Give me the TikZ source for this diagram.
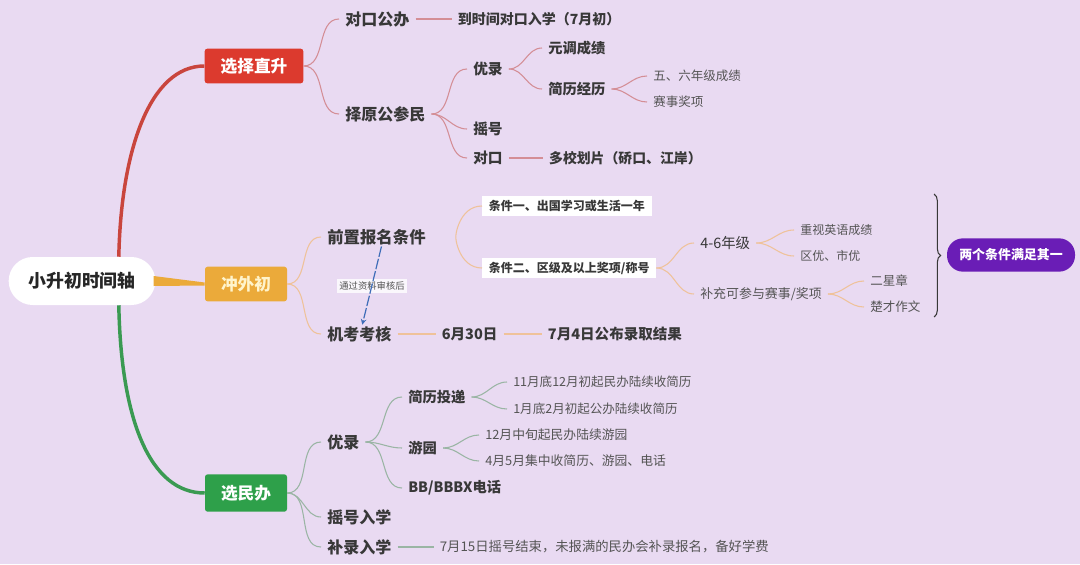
\documentclass[tikz,border=0pt]{standalone}
\usepackage{fontspec}
\setmainfont{Noto Sans CJK SC}
\usepackage{tikz}
\usepackage{xcolor}
\usetikzlibrary{shapes.geometric, arrows, positioning, calc, decorations.pathreplacing}
\definecolor{bgpurple}{HTML}{E9DAF2}
\definecolor{zsred}{HTML}{DC3A2E}
\definecolor{zsredline}{HTML}{C9453D}
\definecolor{redthin}{HTML}{D48E96}
\definecolor{cworange}{HTML}{EBAA3A}
\definecolor{cwtext}{HTML}{FFF4CC}
\definecolor{orangethin}{HTML}{EFC29A}
\definecolor{xmgreen}{HTML}{2EA04A}
\definecolor{xmgreenline}{HTML}{3A9A52}
\definecolor{greenthin}{HTML}{9AB5A4}
\definecolor{txtdark}{HTML}{383838}
\definecolor{txtgray}{HTML}{545454}
\definecolor{pillpurple}{HTML}{6A1DB6}
\definecolor{arrowblue}{HTML}{3F6DB8}
\tikzstyle{root} = [fill=white, rounded corners=18pt, minimum width=110pt, minimum height=36pt, text=black!85, font=\bfseries\fontsize{13.4}{16}\selectfont]
\tikzstyle{mainbox} = [rounded corners=2pt, minimum height=26pt, font=\bfseries\fontsize{12.5}{15}\selectfont]
\tikzstyle{sub} = [anchor=west, inner xsep=4.5pt, inner ysep=1pt, text=txtdark, font=\bfseries\fontsize{12}{14}\selectfont]
\tikzstyle{item} = [sub, font=\bfseries\fontsize{10.7}{13}\selectfont]
\tikzstyle{leaf} = [anchor=west, inner xsep=4.5pt, inner ysep=1pt, text=txtgray, font=\fontsize{9.4}{12}\selectfont]
\tikzstyle{tag} = [anchor=west, fill=white, inner xsep=5pt, inner ysep=3pt, text=txtdark, font=\bfseries\fontsize{9}{11}\selectfont]
\tikzstyle{pill} = [fill=pillpurple, text=white, rounded corners=12pt, minimum width=96pt, minimum height=25pt, font=\bfseries\fontsize{9.7}{12}\selectfont]
\tikzstyle{note} = [fill=white, fill opacity=0.8, text opacity=1, text=txtgray, inner sep=2pt, font=\fontsize{7}{9}\selectfont]
\tikzstyle{fork} = [out=0, in=180]
\tikzstyle{redlink} = [draw=redthin, line width=0.8pt]
\tikzstyle{orangelink} = [draw=orangethin, line width=0.8pt]
\tikzstyle{greenlink} = [draw=greenthin, line width=0.8pt]
\tikzstyle{bigbrace} = [decorate, decoration={brace, amplitude=5pt}, draw=txtdark, line width=0.8pt]

\begin{document}
\begin{tikzpicture}[x=0.75pt, y=-0.75pt, >=stealth]
    \fill [bgpurple] (0,0) rectangle (1080,564);
    \useasboundingbox (0,0) rectangle (1080,564);

    % centre and the three branches
    \node (root) [root] at (82,281) {小升初时间轴};
    \node (zhisheng) [mainbox, fill=zsred, text=white, minimum width=74pt] at (254,66) {选择直升};
    \node (chongwai) [mainbox, fill=cworange, text=cwtext, minimum width=61.5pt] at (246,284) {冲外初};
    \node (xuanmin) [mainbox, fill=xmgreen, text=white, minimum width=61.5pt, minimum height=28pt] at (246,493) {选民办};

    \draw [line width=2.6pt, draw=zsredline] ($(root.north)!0.5!(root.north east)$) .. controls (121,150) and (150,66) .. (zhisheng.west);
    \draw [line width=2.6pt, draw=xmgreenline] ($(root.south)!0.5!(root.south east)$) .. controls (121,420) and (150,493) .. (xuanmin.west);
    \fill [cworange] ($(root.east)+(-2,-5)$) -- ($(chongwai.west)+(0,-1.5)$) -- ($(chongwai.west)+(0,1.5)$) -- ($(root.east)+(-2,5)$) -- cycle;

    % 选择直升
    \node (duikougb) [sub] at (339,19) {对口公办};
    \node (ruxue) [item, right=27pt of duikougb, font=\bfseries\fontsize{10.5}{13}\selectfont] {到时间对口入学（7月初）};
    \node (zeyuan) [sub] at (339,114) {择原公参民};
    \node (youlu) [item, font=\bfseries\fontsize{11}{13}\selectfont] at (467,69) {优录};
    \node (yaohao) [item, font=\bfseries\fontsize{11}{13}\selectfont] at (467,129) {摇号};
    \node (duikou) [item, font=\bfseries\fontsize{11}{13}\selectfont] at (467,158) {对口};
    \node (yuantiao) [item] at (542,48) {元调成绩};
    \node (jianli) [item] at (542,89) {简历经历};
    \node (wuliu) [leaf] at (647,76) {五、六年级成绩};
    \node (saishi) [leaf] at (647,102) {赛事奖项};
    \node (huapian) [item, right=25.5pt of duikou, font=\bfseries\fontsize{10.4}{13}\selectfont] {多校划片（硚口、江岸）};

    \draw [redlink] (zhisheng.east) to[fork] (duikougb.west);
    \draw [redlink] (zhisheng.east) to[fork] (zeyuan.west);
    \draw [redlink] (duikougb) -- (ruxue);
    \draw [redlink] (zeyuan.east) to[fork] (youlu.west);
    \draw [redlink] (zeyuan.east) to[fork] (yaohao.west);
    \draw [redlink] (zeyuan.east) to[fork] (duikou.west);
    \draw [redlink] (youlu.east) to[fork] (yuantiao.west);
    \draw [redlink] (youlu.east) to[fork] (jianli.west);
    \draw [redlink] (jianli.east) to[fork] (wuliu.west);
    \draw [redlink] (jianli.east) to[fork] (saishi.west);
    \draw [redlink] (duikou) -- (huapian);

    % 冲外初
    \node (qianzhi) [sub, font=\bfseries\fontsize{12.3}{14}\selectfont] at (321,237) {前置报名条件};
    \node (jikao) [sub] at (321,334) {机考考核};
    \node (june) [item, right=28.5pt of jikao, font=\bfseries\fontsize{10.9}{13}\selectfont] {6月30日};
    \node (july) [item, right=28.5pt of june, font=\bfseries\fontsize{10.9}{13}\selectfont] {7月4日公布录取结果};
    \node (tiaojian1) [tag] at (482,206) {条件一、出国学习或生活一年};
    \node (tiaojian2) [tag] at (482,268) {条件二、区级及以上奖项/称号};
    \node (nianji) [leaf, text=txtdark, font=\fontsize{10.8}{13}\selectfont] at (694,243) {4-6年级};
    \node (buchong) [leaf, font=\fontsize{9.7}{12}\selectfont] at (694,294) {补充可参与赛事/奖项};
    \node (yingyu) [leaf, font=\fontsize{9}{11}\selectfont] at (794,230) {重视英语成绩};
    \node (quyou) [leaf, font=\fontsize{9}{11}\selectfont] at (794,256) {区优、市优};
    \node (erxing) [leaf] at (864,281) {二星章};
    \node (chucai) [leaf] at (864,307) {楚才作文};
    \node (manzu) [pill] at (1011,255) {两个条件满足其一};
    \coordinate (bracetop) at (934,194);
    \coordinate (bracebot) at (934,317);
    \node (shenhe) [note] at (372,286) {通过资料审核后};

    \draw [orangelink] (chongwai.east) to[fork] (qianzhi.west);
    \draw [orangelink] (chongwai.east) to[fork] (jikao.west);
    \draw [orangelink] (jikao) -- (june);
    \draw [orangelink] (june) -- (july);
    \draw [orangelink, shorten <=18pt] (qianzhi.east) to[fork] (tiaojian1.west);
    \draw [orangelink, shorten <=18pt] (qianzhi.east) to[fork] (tiaojian2.west);
    \draw [orangelink] (tiaojian2.east) to[fork] (nianji.west);
    \draw [orangelink] (tiaojian2.east) to[fork] (buchong.west);
    \draw [orangelink] (nianji.east) to[fork] (yingyu.west);
    \draw [orangelink] (nianji.east) to[fork] (quyou.west);
    \draw [orangelink] (buchong.east) to[fork] (erxing.west);
    \draw [orangelink] (buchong.east) to[fork] (chucai.west);
    \draw [bigbrace] (bracetop) -- (bracebot);
    \draw [->, draw=arrowblue, line width=0.9pt, dash pattern=on 8pt off 1.5pt] ($(qianzhi.south)+(5,0)$) -- ($(jikao.north)+(3,0)$);

    % 选民办
    \node (youlu2) [sub] at (321,442) {优录};
    \node (yaohaorx) [sub] at (321,517) {摇号入学};
    \node (bulu) [sub] at (321,547) {补录入学};
    \node (toudi) [item] at (402,397) {简历投递};
    \node (youyuan) [item] at (402,448) {游园};
    \node (bbdh) [item] at (402,488) {BB/BBBX电话};
    \node (minban) [leaf] at (507,382) {11月底12月初起民办陆续收简历};
    \node (gongban) [leaf] at (507,409) {1月底2月初起公办陆续收简历};
    \node (youyuan1) [leaf, font=\fontsize{9.6}{12}\selectfont] at (479,435) {12月中旬起民办陆续游园};
    \node (youyuan2) [leaf, font=\fontsize{9.6}{12}\selectfont] at (479,461) {4月5月集中收简历、游园、电话};
    \node (buluinfo) [leaf, right=27pt of bulu, font=\fontsize{10}{12}\selectfont] {7月15日摇号结束，未报满的民办会补录报名，备好学费};

    \draw [greenlink] (xuanmin.east) to[fork] (youlu2.west);
    \draw [greenlink] (xuanmin.east) to[fork] (yaohaorx.west);
    \draw [greenlink] (xuanmin.east) to[fork] (bulu.west);
    \draw [greenlink] (youlu2.east) to[fork] (toudi.west);
    \draw [greenlink] (youlu2.east) to[fork] (youyuan.west);
    \draw [greenlink] (youlu2.east) to[fork] (bbdh.west);
    \draw [greenlink] (toudi.east) to[fork] (minban.west);
    \draw [greenlink] (toudi.east) to[fork] (gongban.west);
    \draw [greenlink] (youyuan.east) to[fork] (youyuan1.west);
    \draw [greenlink] (youyuan.east) to[fork] (youyuan2.west);
    \draw [greenlink] (bulu) -- (buluinfo);
\end{tikzpicture}
\end{document}
